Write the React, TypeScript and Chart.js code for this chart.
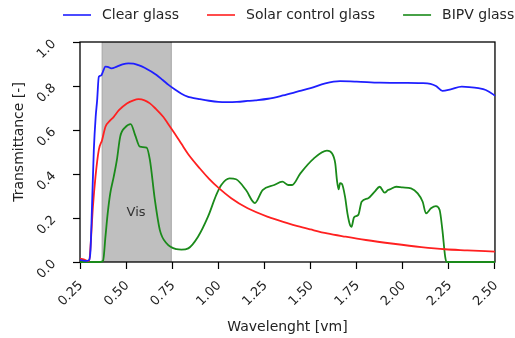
import React, { useEffect, useRef } from "react";
import { Chart, registerables } from "chart.js";

Chart.register(...registerables);

const seriesLabels = ["Clear glass", "Solar control glass", "BIPV glass"];
const seriesColors = ["#1f1fff", "#ff2020", "#1a8a1a"];

const clearWl = [0.25, 0.28, 0.3, 0.307, 0.315, 0.325, 0.335, 0.343, 0.352, 0.365, 0.372, 0.388, 0.4, 0.42, 0.45, 0.48, 0.513, 0.54, 0.567, 0.6, 0.665, 0.7, 0.73, 0.763, 0.8, 0.837, 0.85, 0.9, 0.95, 1.0, 1.05, 1.1, 1.159, 1.2, 1.27, 1.35, 1.428, 1.5, 1.58, 1.66, 1.75, 1.875, 2.0, 2.1, 2.15, 2.18, 2.215, 2.26, 2.32, 2.36, 2.41, 2.45, 2.49, 2.5];
const clearT = [0.01, 0.005, 0.01, 0.055, 0.25, 0.51, 0.66, 0.736, 0.842, 0.848, 0.86, 0.888, 0.887, 0.88, 0.888, 0.898, 0.903, 0.902, 0.895, 0.883, 0.85, 0.826, 0.805, 0.785, 0.765, 0.751, 0.748, 0.74, 0.733, 0.728, 0.727, 0.728, 0.732, 0.735, 0.742, 0.757, 0.774, 0.79, 0.812, 0.822, 0.82, 0.815, 0.814, 0.813, 0.81, 0.8, 0.778, 0.785, 0.797, 0.795, 0.79, 0.782, 0.762, 0.755];

const solarWl = [0.25, 0.27, 0.29, 0.3, 0.307, 0.32, 0.334, 0.352, 0.37, 0.388, 0.41, 0.433, 0.461, 0.504, 0.54, 0.567, 0.6, 0.629, 0.66, 0.701, 0.73, 0.773, 0.8, 0.837, 0.9, 0.95, 1.0, 1.07, 1.159, 1.27, 1.37, 1.43, 1.5, 1.59, 1.69, 1.8, 1.95, 2.1, 2.23, 2.35, 2.5];
const solarT = [0.015, 0.012, 0.005, 0.005, 0.07, 0.25, 0.388, 0.51, 0.555, 0.615, 0.64, 0.66, 0.69, 0.721, 0.735, 0.74, 0.735, 0.721, 0.697, 0.66, 0.625, 0.572, 0.537, 0.49, 0.425, 0.378, 0.338, 0.29, 0.244, 0.205, 0.178, 0.163, 0.148, 0.13, 0.115, 0.1, 0.083, 0.068, 0.058, 0.053, 0.047];

const bipvWl = [0.25, 0.36, 0.375, 0.388, 0.4, 0.414, 0.433, 0.45, 0.468, 0.495, 0.525, 0.549, 0.575, 0.611, 0.629, 0.656, 0.683, 0.719, 0.773, 0.8, 0.837, 0.89, 0.944, 0.989, 1.016, 1.061, 1.096, 1.15, 1.198, 1.24, 1.303, 1.347, 1.38, 1.4, 1.445, 1.517, 1.589, 1.616, 1.634, 1.643, 1.652, 1.66, 1.67, 1.687, 1.7, 1.714, 1.722, 1.736, 1.759, 1.777, 1.813, 1.848, 1.875, 1.902, 1.92, 1.93, 1.965, 2.0, 2.045, 2.081, 2.108, 2.126, 2.153, 2.18, 2.2, 2.215, 2.23, 2.237, 2.5];
const bipvT = [0, 0, 0.005, 0.115, 0.22, 0.312, 0.388, 0.464, 0.57, 0.612, 0.627, 0.577, 0.524, 0.52, 0.464, 0.282, 0.145, 0.085, 0.058, 0.056, 0.062, 0.115, 0.206, 0.305, 0.35, 0.38, 0.376, 0.327, 0.268, 0.327, 0.35, 0.365, 0.35, 0.35, 0.403, 0.47, 0.506, 0.494, 0.448, 0.373, 0.33, 0.358, 0.355, 0.297, 0.221, 0.168, 0.16, 0.203, 0.214, 0.274, 0.29, 0.32, 0.342, 0.315, 0.327, 0.33, 0.342, 0.339, 0.335, 0.312, 0.274, 0.221, 0.244, 0.254, 0.236, 0.145, 0.024, 0, 0];

const xTickLabels = ["0.25", "0.50", "0.75", "1.00", "1.25", "1.50", "1.75", "2.00", "2.25", "2.50"];
const yTickLabels = ["0.0", "0.2", "0.4", "0.6", "0.8", "1.0"];
const visBand = [0.37, 0.745];
const visLabel = "Vis";
const visLabelPos = [0.554, 0.224];
const xTitle = "Wavelenght [vm]";
const yTitle = "Transmittance [-]";

const FONT = '"DejaVu Sans", sans-serif';

const toPoints = (xs: number[], ys: number[]) => xs.map((x, i) => ({ x, y: ys[i] }));

const decorPlugin = {
  id: "decor",
  beforeDatasetsDraw(chart: any) {
    const { ctx, chartArea: a, scales } = chart;
    const x = scales.x;
    const y = scales.y;
    const x0 = x.getPixelForValue(visBand[0]);
    const x1 = x.getPixelForValue(visBand[1]);
    ctx.save();
    ctx.fillStyle = "#bfbfbf";
    ctx.fillRect(x0, a.top, x1 - x0, a.bottom - a.top);
    ctx.strokeStyle = "#a6a6a6";
    ctx.lineWidth = 1;
    ctx.beginPath();
    ctx.moveTo(x0, a.top);
    ctx.lineTo(x0, a.bottom);
    ctx.moveTo(x1, a.top);
    ctx.lineTo(x1, a.bottom);
    ctx.stroke();
    ctx.fillStyle = "#333";
    ctx.font = `13px ${FONT}`;
    ctx.textAlign = "center";
    ctx.textBaseline = "middle";
    ctx.fillText(visLabel, x.getPixelForValue(visLabelPos[0]), y.getPixelForValue(visLabelPos[1]));
    ctx.strokeStyle = "#000";
    ctx.lineWidth = 1.3;
    ctx.strokeRect(a.left, a.top, a.right - a.left, a.bottom - a.top);
    ctx.restore();
  },
  afterDraw(chart: any) {
    const { ctx, chartArea: a } = chart;
    ctx.save();
    // y-axis title
    ctx.font = `14px ${FONT}`;
    ctx.fillStyle = "#222";
    ctx.textAlign = "center";
    ctx.textBaseline = "middle";
    ctx.translate(19, (a.top + a.bottom) / 2 - 10);
    ctx.rotate(-Math.PI / 2);
    ctx.fillText(yTitle, 0, 0);
    ctx.restore();

    ctx.save();
    ctx.font = `14px ${FONT}`;
    ctx.textBaseline = "middle";
    ctx.textAlign = "left";
    let cx = 63;
    const cy = 15;
    chart.data.datasets.forEach((ds: any) => {
      ctx.strokeStyle = ds.borderColor;
      ctx.lineWidth = 1.6;
      ctx.beginPath();
      ctx.moveTo(cx, cy);
      ctx.lineTo(cx + 28, cy);
      ctx.stroke();
      ctx.fillStyle = "#262626";
      ctx.fillText(ds.label, cx + 39, cy);
      cx += 28 + 11 + ctx.measureText(ds.label).width + 28;
    });
    ctx.restore();
  },
};

export default function App() {
  const ref = useRef<HTMLCanvasElement | null>(null);
  useEffect(() => {
    if (!ref.current) return;
    const series = [
      [clearWl, clearT],
      [solarWl, solarT],
      [bipvWl, bipvT],
    ];
    const chart = new Chart(ref.current, {
      type: "line",
      data: {
        datasets: series.map((s, i) => ({
          label: seriesLabels[i],
          data: toPoints(s[0], s[1]),
          borderColor: seriesColors[i],
          backgroundColor: seriesColors[i],
          borderWidth: 1.8,
          pointRadius: 0,
          cubicInterpolationMode: "monotone" as const,
          fill: false,
          clip: false as const,
        })),
      },
      options: {
        animation: false,
        responsive: false,
        devicePixelRatio: 1,
        layout: { padding: { top: 42, right: 16, left: 0, bottom: 0 } },
        plugins: {
          legend: { display: false },
          tooltip: { enabled: false },
        },
        scales: {
          x: {
            type: "linear",
            min: 0.25,
            max: 2.5,
            afterFit: (s: any) => {
              s.height = 76;
            },
            afterBuildTicks: (s: any) => {
              s.ticks = xTickLabels.map((t) => ({ value: parseFloat(t) }));
            },
            ticks: {
              minRotation: 45,
              maxRotation: 45,
              padding: 9,
              labelOffset: 1,
              color: "#222",
              font: { family: FONT, size: 13 },
              callback: (v: any) => xTickLabels.find((t) => Math.abs(parseFloat(t) - Number(v)) < 1e-6) ?? "",
            },
            grid: { display: true, drawOnChartArea: false, drawTicks: true, tickLength: 7, tickColor: "#000", tickWidth: 1.2 },
            border: { display: false },
            title: {
              display: true,
              text: xTitle,
              color: "#222",
              font: { family: FONT, size: 14 },
              padding: { top: 0, bottom: 2.6 },
            },
          },
          y: {
            type: "linear",
            min: 0,
            max: 1,
            afterFit: (s: any) => {
              s.width = 80;
            },
            afterBuildTicks: (s: any) => {
              s.ticks = yTickLabels.map((t) => ({ value: parseFloat(t) }));
            },
            ticks: {
              minRotation: 45,
              maxRotation: 45,
              padding: 19,
              color: "#222",
              font: { family: FONT, size: 13 },
              callback: (v: any) => yTickLabels.find((t) => Math.abs(parseFloat(t) - Number(v)) < 1e-6) ?? "",
            },
            grid: { display: true, drawOnChartArea: false, drawTicks: true, tickLength: 7, tickColor: "#000", tickWidth: 1.2 },
            border: { display: false },
            title: { display: false },
          },
        },
      },
      plugins: [decorPlugin],
    });
    return () => chart.destroy();
  }, []);
  return (
    <div style={{ position: "absolute", left: 0, top: 0, width: 515, height: 338, background: "#fff" }}>
      <canvas ref={ref} width={515} height={338} style={{ display: "block" }} />
    </div>
  );
}
